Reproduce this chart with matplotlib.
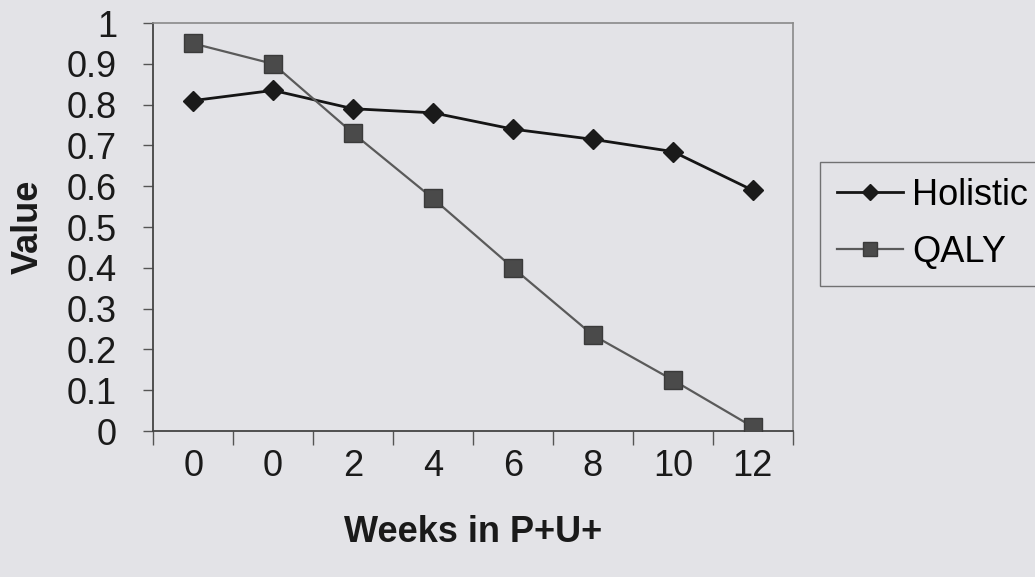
import numpy as np
import matplotlib.pyplot as plt
from matplotlib.ticker import FixedLocator

# Holistic vs QALY value over weeks in P+U+
weeks = ['0', '0', '2', '4', '6', '8', '10', '12']
holistic = [0.81, 0.835, 0.79, 0.78, 0.74, 0.715, 0.685, 0.59]
qaly = [0.95, 0.90, 0.73, 0.57, 0.40, 0.235, 0.125, 0.01]
yticks = [0, 0.1, 0.2, 0.3, 0.4, 0.5, 0.6, 0.7, 0.8, 0.9, 1]
ytick_labels = ['0', '0.1', '0.2', '0.3', '0.4', '0.5', '0.6', '0.7', '0.8', '0.9', '1']

bg = '#e3e3e7'
plt.rcParams['font.family'] = ['Liberation Sans', 'DejaVu Sans']

fig = plt.figure(figsize=(10.35, 5.77), dpi=100)
fig.patch.set_facecolor(bg)
ax = fig.add_axes([0.148, 0.253, 0.618, 0.707])
ax.set_facecolor(bg)

x = np.arange(len(weeks))
ax.plot(x, holistic, color='#151515', lw=2.0, marker='D', ms=10,
        mfc='#1a1a1a', mec='#1a1a1a', label='Holistic', zorder=3)
ax.plot(x, qaly, color='#5a5a5a', lw=1.6, marker='s', ms=12.5,
        mfc='#4a4a4a', mec='#3a3a3a', label='QALY', zorder=3)

ax.set_xlim(-0.5, len(weeks) - 0.5)
ax.set_ylim(0, 1)
ax.set_yticks(yticks)
ax.set_yticklabels(ytick_labels)
ax.set_xticks(x)
ax.set_xticklabels(weeks)
ax.xaxis.set_minor_locator(FixedLocator(np.arange(-0.5, len(weeks), 1.0)))
ax.tick_params(axis='x', which='major', length=0, pad=13, labelsize=26, colors='#1a1a1a')
ax.tick_params(axis='x', which='minor', length=10, width=1, color='#555555')
ax.tick_params(axis='y', length=7, width=1, color='#555555', pad=19, labelsize=26,
               labelcolor='#1a1a1a')

for side in ['top', 'right']:
    ax.spines[side].set_color('#8a8a8a')
    ax.spines[side].set_linestyle((0, (1, 1)))
    ax.spines[side].set_linewidth(1.2)
for side in ['left', 'bottom']:
    ax.spines[side].set_color('#444444')
    ax.spines[side].set_linewidth(1.3)

ax.set_ylabel('Value', fontsize=26, fontweight='bold', labelpad=15, color='#1a1a1a')
ax.set_xlabel('Weeks in P+U+', fontsize=26, fontweight='bold', labelpad=22, color='#1a1a1a')

leg = ax.legend(loc='upper left', bbox_to_anchor=(1.043, 0.66), fontsize=26,
                frameon=True, fancybox=False, edgecolor='#555555', facecolor=bg,
                handlelength=1.85, handletextpad=0.25, borderpad=0.45, labelspacing=0.6,
                borderaxespad=0, markerscale=0.8)
leg.get_frame().set_linewidth(1.0)

fig.savefig('out.png', dpi=100, facecolor=bg)
